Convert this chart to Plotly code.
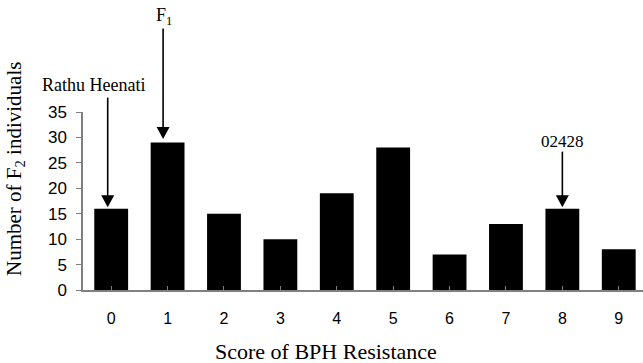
import plotly.graph_objects as go

scores = [0, 1, 2, 3, 4, 5, 6, 7, 8, 9]
counts = [16, 29, 15, 10, 19, 28, 7, 13, 16, 8]
y_ticks = [0, 5, 10, 15, 20, 25, 30, 35]
y_max = 35

# annotated parents: (score index, label)
markers = [(0, "Rathu Heenati"), (1, "F<sub>1</sub>"), (8, "02428")]

serif = "Liberation Serif, Times New Roman, serif"
sans = "Liberation Sans, Arial, sans-serif"

fig = go.Figure(go.Bar(
    x=scores, y=counts, width=0.6,
    marker=dict(color="black", line=dict(width=0)),
))

# arrow / label geometry in pixels relative to the bar top
cfg = {
    0: dict(dx=-3.5, tail=111, gap=1.5, tx=-18, ty=124, size=18),
    1: dict(dx=-4.5, tail=114, gap=3.5, tx=-4, ty=126, size=18),
    8: dict(dx=0, tail=57, gap=1.5, tx=0, ty=67, size=17),
}
head_h, head_w = 12, 13
shapes, anns = [], []
for idx, label in markers:
    c = cfg[idx]
    # y anchored on the bar top, expressed on the paper scale (axis spans 0..y_max)
    common = dict(xref="x", yref="paper", xsizemode="pixel", ysizemode="pixel",
                  xanchor=scores[idx], yanchor=counts[idx] / y_max)
    shapes.append(dict(type="line", x0=c["dx"], x1=c["dx"],
                       y0=c["gap"] + head_h - 1, y1=c["tail"],
                       line=dict(color="black", width=1.6), **common))
    b = c["gap"] + head_h
    path = (f"M {c['dx'] - head_w / 2},{b} L {c['dx'] + head_w / 2},{b} "
            f"L {c['dx']},{c['gap']} Z")
    shapes.append(dict(type="path", path=path, fillcolor="black",
                       line=dict(width=0), **common))
    anns.append(dict(
        x=scores[idx], y=counts[idx], xref="x", yref="y", text=label,
        showarrow=False, xshift=c["tx"], yshift=c["ty"],
        xanchor="center", yanchor="middle",
        font=dict(family=serif, size=c["size"], color="black"),
    ))

W, H = 643, 363
ml, mr, mt, mb = 83, 0, 112, 73
pw, ph = W - ml - mr, H - mt - mb

anns.append(dict(
    x=(15 - ml) / pw, y=(H - mb - 169) / ph, xref="paper", yref="paper",
    text="Number of F<sub>2</sub> individuals",
    showarrow=False, textangle=-90, xanchor="center", yanchor="middle",
    font=dict(family=serif, size=21, color="black"),
))
anns.append(dict(
    x=(326 - ml) / pw, y=(H - mb - 351) / ph, xref="paper", yref="paper",
    text="Score of BPH Resistance",
    showarrow=False, xanchor="center", yanchor="middle",
    font=dict(family=serif, size=22, color="black"),
))

fig.update_layout(
    width=W, height=H,
    margin=dict(l=ml, r=mr, t=mt, b=mb, pad=0),
    paper_bgcolor="white", plot_bgcolor="white",
    showlegend=False,
    annotations=anns,
    shapes=shapes,
    bargap=0.4,
)
fig.update_xaxes(
    range=[-0.5, 9.43], tickmode="array", tickvals=scores,
    ticktext=[str(s) for s in scores], tickson="boundaries",
    ticks="inside", ticklen=4, tickcolor="#808080", tickwidth=1,
    showline=True, linecolor="#808080", linewidth=1.5, showgrid=False,
    zeroline=False, ticklabelstandoff=13, automargin=False,
    tickfont=dict(family=sans, size=16, color="black"),
)
fig.update_yaxes(
    range=[0, y_max], tickmode="array", tickvals=y_ticks,
    ticks="outside", ticklen=5, tickcolor="#808080", tickwidth=1,
    showline=True, linecolor="#808080", linewidth=1.5, showgrid=False,
    zeroline=False, ticklabelstandoff=6, automargin=False,
    tickfont=dict(family=sans, size=17, color="black"),
)
fig.write_html(
    "out.html",
    config={"displayModeBar": False},
    post_script="document.body.style.margin='0';document.body.style.overflow='hidden';",
)
